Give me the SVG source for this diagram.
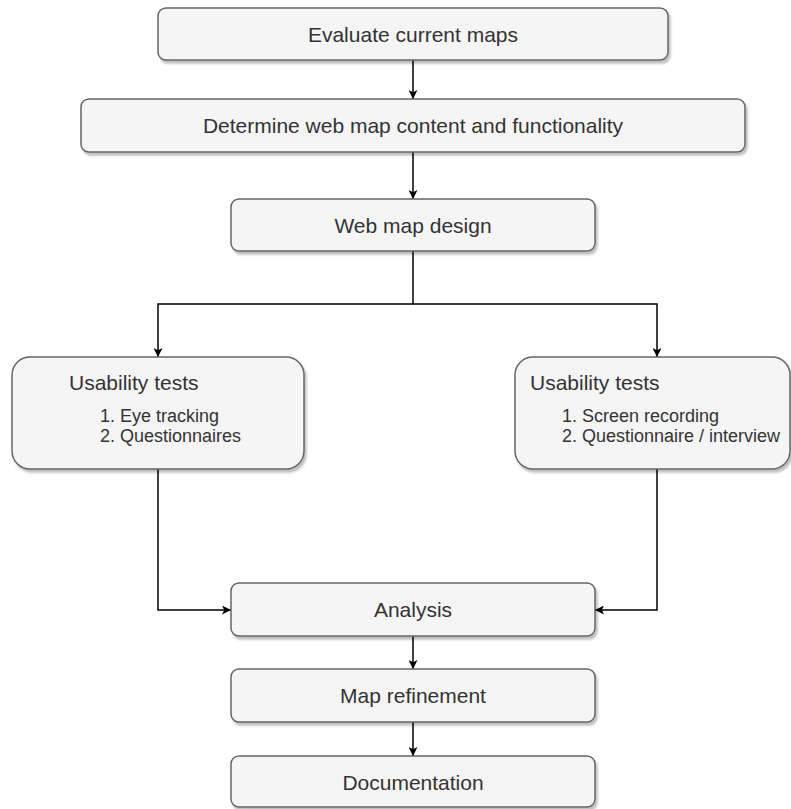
<svg xmlns="http://www.w3.org/2000/svg" width="791" height="809" viewBox="0 0 791 809">
<style>
.box{fill:#f5f5f5;stroke:#666666;stroke-width:1.5;filter:url(#sh)}
.t{font-family:"Liberation Sans",Arial,sans-serif;font-size:21px;fill:#333333}
.c{text-anchor:middle}
.s{font-size:18px}
.e{fill:none;stroke:#000000;stroke-width:1.5;marker-end:url(#ah)}
</style>
<defs>
<filter id="sh" x="-10%" y="-10%" width="130%" height="140%">
<feDropShadow dx="2" dy="3" stdDeviation="1" flood-color="#000000" flood-opacity="0.25"/>
</filter>
<marker id="ah" viewBox="0 0 10 10" refX="10" refY="5" markerWidth="9" markerHeight="9" markerUnits="userSpaceOnUse" orient="auto">
<path d="M0,0 L10,5 L0,10 L2.5,5 Z" fill="#000000"/>
</marker>
</defs>
<g id="connectors">
<path class="e" d="M413,60 L413,99"/>
<path class="e" d="M413,152 L413,199"/>
<path class="e" d="M413,251 L413,304 L158,304 L158,357"/>
<path class="e" d="M413,304 L657,304 L657,357"/>
<path class="e" d="M158,469 L158,610 L231,610"/>
<path class="e" d="M657,469 L657,610 L595,610"/>
<path class="e" d="M413,636 L413,669"/>
<path class="e" d="M413,722 L413,756"/>
</g>
<g id="n1"><rect class="box" x="158" y="8" width="510" height="52" rx="8"/><text class="t c" x="413" y="41.5">Evaluate current maps</text></g>
<g id="n2"><rect class="box" x="81" y="99" width="664" height="53" rx="8"/><text class="t c" x="413" y="133">Determine web map content and functionality</text></g>
<g id="n3"><rect class="box" x="231" y="199" width="364" height="52" rx="8"/><text class="t c" x="413" y="232.5">Web map design</text></g>
<g id="n4"><rect class="box" x="12" y="357" width="292" height="112" rx="18"/>
<text class="t" x="69" y="390">Usability tests</text>
<text class="t s" x="100" y="422">1. Eye tracking</text>
<text class="t s" x="100" y="442">2. Questionnaires</text></g>
<g id="n5"><rect class="box" x="515" y="357" width="275" height="112" rx="18"/>
<text class="t" x="530" y="390">Usability tests</text>
<text class="t s" x="562" y="422">1. Screen recording</text>
<text class="t s" x="562" y="442">2. Questionnaire / interview</text></g>
<g id="n6"><rect class="box" x="231" y="583" width="364" height="53" rx="8"/><text class="t c" x="413" y="617">Analysis</text></g>
<g id="n7"><rect class="box" x="231" y="669" width="364" height="53" rx="8"/><text class="t c" x="413" y="703">Map refinement</text></g>
<g id="n8"><rect class="box" x="231" y="756" width="364" height="51" rx="8"/><text class="t c" x="413" y="789.5">Documentation</text></g>
</svg>
